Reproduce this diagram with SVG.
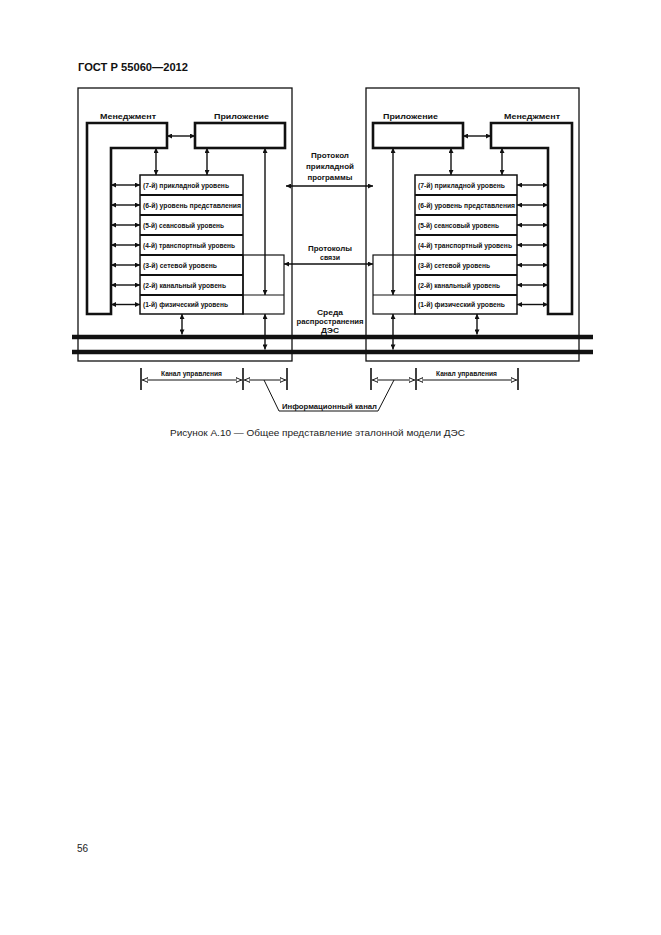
<svg xmlns="http://www.w3.org/2000/svg" width="661" height="935" viewBox="0 0 661 935">
<defs>
<marker id="ah" viewBox="0 0 10 10" refX="10" refY="5" markerWidth="6" markerHeight="5" orient="auto-start-reverse" markerUnits="userSpaceOnUse">
<path d="M0,0 L10,5 L0,10 z" fill="#111"/>
</marker>
<marker id="oh" viewBox="0 0 10 10" refX="10" refY="5" markerWidth="6" markerHeight="6" orient="auto-start-reverse" markerUnits="userSpaceOnUse">
<path d="M0,1 L9,5 L0,9 z" fill="#fff" stroke="#111" stroke-width="1.6"/>
</marker>
</defs>
<style>
.frame{fill:none;stroke:#111;stroke-width:1.3}
.thick{fill:#fff;stroke:#111;stroke-width:2.6}
.stack{fill:#fff;stroke:#111;stroke-width:1.5}
.sep{stroke:#111;stroke-width:1.8}
.ext{fill:none;stroke:#111;stroke-width:1.2}
.arr{stroke:#111;stroke-width:1.4;fill:none;marker-start:url(#ah);marker-end:url(#ah)}
.dim{stroke:#111;stroke-width:1;fill:none;marker-start:url(#oh);marker-end:url(#oh)}
.tick{stroke:#111;stroke-width:1.6}
.bus{stroke:#111;stroke-width:4.6}
.lbl{font-family:"Liberation Sans",Arial,sans-serif;font-weight:bold;font-size:8px;fill:#111}
.lay{font-family:"Liberation Sans",Arial,sans-serif;font-weight:bold;font-size:6.5px;fill:#111}
.mid{font-family:"Liberation Sans",Arial,sans-serif;font-weight:bold;font-size:7.5px;fill:#111;text-anchor:middle}
</style>
<rect width="661" height="935" fill="#fff"/>
<text x="78" y="71" font-family="Liberation Sans, Arial, sans-serif" font-weight="bold" font-size="10.5" fill="#111" textLength="110" lengthAdjust="spacingAndGlyphs">ГОСТ Р 55060—2012</text>

<g id="left-system">
<rect class="frame" x="78" y="88" width="214" height="273"/>
</g>
<g id="right-system">
<rect class="frame" x="366" y="88" width="213" height="273"/>
</g>

<g id="left-management">
<polygon class="thick" points="87,123 167,123 167,148 111,148 111,314 87,314"/>
<text class="lbl" x="100" y="119" textLength="56" lengthAdjust="spacingAndGlyphs">Менеджмент</text>
</g>
<g id="left-application">
<rect class="thick" x="195" y="123" width="90" height="25"/>
<text class="lbl" x="214" y="119" textLength="55" lengthAdjust="spacingAndGlyphs">Приложение</text>
</g>
<g id="right-application">
<rect class="thick" x="373" y="123" width="90" height="25"/>
<text class="lbl" x="383" y="119" textLength="55" lengthAdjust="spacingAndGlyphs">Приложение</text>
</g>
<g id="right-management">
<polygon class="thick" points="491,123 572,123 572,314 548,314 548,148 491,148"/>
<text class="lbl" x="504" y="119" textLength="56" lengthAdjust="spacingAndGlyphs">Менеджмент</text>
</g>

<g id="left-stack">
<rect class="stack" x="140" y="175" width="103" height="139"/>
<line class="sep" x1="140" y1="195" x2="243" y2="195"/>
<line class="sep" x1="140" y1="215" x2="243" y2="215"/>
<line class="sep" x1="140" y1="235" x2="243" y2="235"/>
<line class="sep" x1="140" y1="255" x2="243" y2="255"/>
<line class="sep" x1="140" y1="275" x2="243" y2="275"/>
<line class="sep" x1="140" y1="295" x2="243" y2="295"/>
<text class="lay" x="143" y="187.5" textLength="86" lengthAdjust="spacingAndGlyphs">(7-й) прикладной уровень</text>
<text class="lay" x="143" y="207.5" textLength="98" lengthAdjust="spacingAndGlyphs">(6-й) уровень представления</text>
<text class="lay" x="143" y="227.5" textLength="81" lengthAdjust="spacingAndGlyphs">(5-й) сеансовый уровень</text>
<text class="lay" x="143" y="247.5" textLength="92" lengthAdjust="spacingAndGlyphs">(4-й) транспортный уровень</text>
<text class="lay" x="143" y="267.5" textLength="74" lengthAdjust="spacingAndGlyphs">(3-й) сетевой уровень</text>
<text class="lay" x="143" y="287.5" textLength="83" lengthAdjust="spacingAndGlyphs">(2-й) канальный уровень</text>
<text class="lay" x="143" y="307" textLength="85" lengthAdjust="spacingAndGlyphs">(1-й) физический уровень</text>
</g>
<g id="left-extension">
<rect class="ext" x="243" y="255" width="41" height="59"/>
<line class="ext" x1="243" y1="295" x2="284" y2="295"/>
</g>

<g id="right-stack">
<rect class="stack" x="415" y="175" width="102" height="139"/>
<line class="sep" x1="415" y1="195" x2="517" y2="195"/>
<line class="sep" x1="415" y1="215" x2="517" y2="215"/>
<line class="sep" x1="415" y1="235" x2="517" y2="235"/>
<line class="sep" x1="415" y1="255" x2="517" y2="255"/>
<line class="sep" x1="415" y1="275" x2="517" y2="275"/>
<line class="sep" x1="415" y1="295" x2="517" y2="295"/>
<text class="lay" x="418" y="187.5" textLength="87" lengthAdjust="spacingAndGlyphs">(7-й) прикладной уровень</text>
<text class="lay" x="418" y="207.5" textLength="97" lengthAdjust="spacingAndGlyphs">(6-й) уровень представления</text>
<text class="lay" x="418" y="227.5" textLength="81" lengthAdjust="spacingAndGlyphs">(5-й) сеансовый уровень</text>
<text class="lay" x="418" y="247.5" textLength="94" lengthAdjust="spacingAndGlyphs">(4-й) транспортный уровень</text>
<text class="lay" x="418" y="267.5" textLength="72" lengthAdjust="spacingAndGlyphs">(3-й) сетевой уровень</text>
<text class="lay" x="418" y="287.5" textLength="82" lengthAdjust="spacingAndGlyphs">(2-й) канальный уровень</text>
<text class="lay" x="418" y="307" textLength="87" lengthAdjust="spacingAndGlyphs">(1-й) физический уровень</text>
</g>
<g id="right-extension">
<rect class="ext" x="373" y="255" width="42" height="59"/>
<line class="ext" x1="373" y1="295" x2="415" y2="295"/>
</g>

<g id="medium">
<line class="bus" x1="72" y1="337" x2="593" y2="337"/>
<line class="bus" x1="72" y1="352" x2="593" y2="352"/>
</g>

<g id="connectors">
<line class="arr" x1="167" y1="136" x2="195" y2="136"/>
<line class="arr" x1="463" y1="136" x2="491" y2="136"/>
<line class="arr" x1="156" y1="148" x2="156" y2="175"/>
<line class="arr" x1="207" y1="148" x2="207" y2="175"/>
<line class="arr" x1="451" y1="148" x2="451" y2="175"/>
<line class="arr" x1="502" y1="148" x2="502" y2="175"/>
<line class="arr" x1="265" y1="148" x2="265" y2="295"/>
<line class="arr" x1="393" y1="148" x2="393" y2="295"/>
<line class="arr" x1="111" y1="185" x2="140" y2="185"/>
<line class="arr" x1="111" y1="205" x2="140" y2="205"/>
<line class="arr" x1="111" y1="225" x2="140" y2="225"/>
<line class="arr" x1="111" y1="245" x2="140" y2="245"/>
<line class="arr" x1="111" y1="265" x2="140" y2="265"/>
<line class="arr" x1="111" y1="285" x2="140" y2="285"/>
<line class="arr" x1="111" y1="304.5" x2="140" y2="304.5"/>
<line class="arr" x1="517" y1="185" x2="548" y2="185"/>
<line class="arr" x1="517" y1="205" x2="548" y2="205"/>
<line class="arr" x1="517" y1="225" x2="548" y2="225"/>
<line class="arr" x1="517" y1="245" x2="548" y2="245"/>
<line class="arr" x1="517" y1="265" x2="548" y2="265"/>
<line class="arr" x1="517" y1="285" x2="548" y2="285"/>
<line class="arr" x1="517" y1="304.5" x2="548" y2="304.5"/>
<line class="arr" x1="286" y1="186" x2="373" y2="186"/>
<line class="arr" x1="284" y1="264" x2="373" y2="264"/>
<line class="arr" x1="182" y1="314" x2="182" y2="334.5"/>
<line class="arr" x1="477" y1="314" x2="477" y2="334.5"/>
<line class="arr" x1="265" y1="314" x2="265" y2="349.5"/>
<line class="arr" x1="393" y1="314" x2="393" y2="349.5"/>
</g>

<g id="protocol-labels">
<text class="mid" x="330" y="158" textLength="38" lengthAdjust="spacingAndGlyphs">Протокол</text>
<text class="mid" x="330" y="169" textLength="48" lengthAdjust="spacingAndGlyphs">прикладной</text>
<text class="mid" x="330" y="180" textLength="45" lengthAdjust="spacingAndGlyphs">программы</text>
<text class="mid" x="330" y="251" textLength="44" lengthAdjust="spacingAndGlyphs">Протоколы</text>
<text class="mid" x="330" y="260" textLength="20" lengthAdjust="spacingAndGlyphs">связи</text>
<text class="mid" x="330" y="314.5" textLength="26" lengthAdjust="spacingAndGlyphs">Среда</text>
<text class="mid" x="330" y="324" textLength="67" lengthAdjust="spacingAndGlyphs">распространения</text>
<text class="mid" x="330" y="333" textLength="18" lengthAdjust="spacingAndGlyphs">ДЭС</text>
</g>

<g id="channels">
<line class="tick" x1="141" y1="368" x2="141" y2="390"/>
<line class="tick" x1="243" y1="368" x2="243" y2="390"/>
<line class="tick" x1="287" y1="368" x2="287" y2="390"/>
<line class="tick" x1="371" y1="368" x2="371" y2="390"/>
<line class="tick" x1="416" y1="368" x2="416" y2="390"/>
<line class="tick" x1="518" y1="368" x2="518" y2="390"/>
<line class="dim" x1="142" y1="380" x2="242" y2="380"/>
<line class="dim" x1="244" y1="380" x2="286" y2="380"/>
<line class="dim" x1="372" y1="380" x2="415" y2="380"/>
<line class="dim" x1="417" y1="380" x2="517" y2="380"/>
<polyline points="264,380 279,411 378,411 394,380" fill="none" stroke="#111" stroke-width="1"/>
<text class="lay" x="161" y="376" textLength="61" lengthAdjust="spacingAndGlyphs">Канал управления</text>
<text class="lay" x="436" y="376" textLength="61" lengthAdjust="spacingAndGlyphs">Канал управления</text>
<text class="lay" x="282" y="409" textLength="95" lengthAdjust="spacingAndGlyphs">Информационный канал</text>
</g>

<text x="170" y="436" font-family="Liberation Sans, Arial, sans-serif" font-size="9" fill="#222" textLength="295" lengthAdjust="spacingAndGlyphs">Рисунок А.10 — Общее представление эталонной модели ДЭС</text>
<text x="77" y="852" font-family="Liberation Sans, Arial, sans-serif" font-size="10" fill="#222">56</text>
</svg>
